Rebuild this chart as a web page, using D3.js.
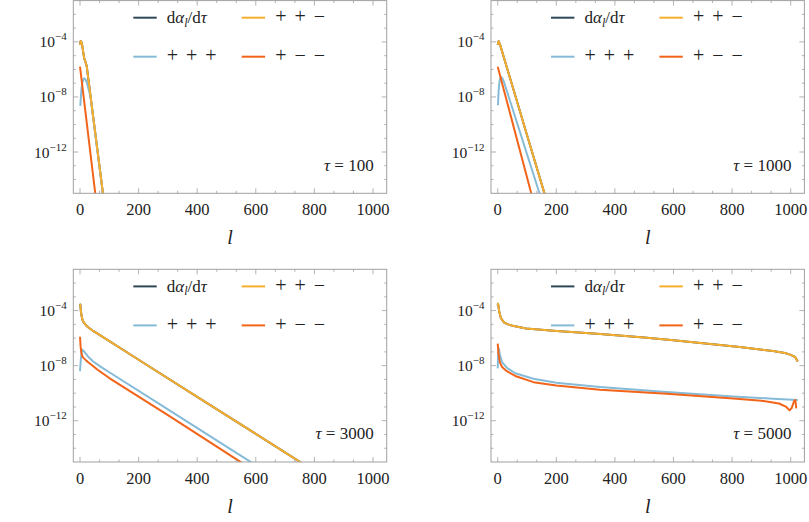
<!DOCTYPE html>
<html><head><meta charset="utf-8">
<script src="https://cdn.jsdelivr.net/npm/d3@7"></script>
<style>
html,body{margin:0;padding:0;background:#fff;}
svg{display:block;}
</style></head>
<body>
<svg id="chart" width="809" height="522"></svg>
<script>
// ---------- data (values as log10 exponents) ----------
const taus = [100, 1000, 3000, 5000];
const seriesNames = ["dalpha", "ppp", "ppm", "pmm"];
const seriesColors = ["#2F4858", "#86BBD8", "#F6AE2D", "#F26419"];

const xTicks = [0, 200, 400, 600, 800, 1000];
const yTickExps = [-4, -8, -12];

// tau = 100
const ppm100 = [[0,-4.21],[2,-3.95],[4,-3.97],[8,-4.3],[12,-4.9],[15,-5.25],[18,-5.4],[23,-5.78],[40,-8.62],[60,-11.96],[80,-15.3]];
const dal100 = [[0,-4.21],[2,-3.95],[4,-3.97],[8,-4.3],[12,-4.9],[15,-5.25],[18,-5.4],[23,-5.78],[40,-8.62],[60,-11.96],[80,-15.3]];
const ppp100 = [[1,-8.65],[3,-8.0],[5,-7.4],[8,-6.95],[12,-6.68],[15,-6.65],[19,-6.75],[24,-7.0],[30,-7.5],[36,-8.0],[40,-8.68],[60,-12.02],[80,-15.36]];
const pmm100 = [[0,-5.8],[20,-9.34],[40,-12.88],[56,-15.71]];

// tau = 1000
const ppm1000 = [[0,-4.2],[3,-3.95],[8,-4.2],[50,-7.19],[100,-10.76],[159,-14.97],[166,-15.47]];
const dal1000 = [[0,-4.2],[3,-3.95],[8,-4.2],[50,-7.19],[100,-10.76],[159,-14.97],[166,-15.47]];
const ppp1000 = [[1,-8.6],[3,-7.6],[6,-6.9],[9,-6.6],[12,-6.55],[16,-6.65],[22,-6.95],[40,-8.15],[80,-10.82],[142,-14.96],[150,-15.5]];
const pmm1000 = [[0,-5.8],[114,-14.96],[120,-15.45]];

// tau = 3000
const ppm3000 = [[0,-3.65],[1,-3.55],[3,-4.05],[6,-4.45],[9,-4.7],[14,-4.9],[20,-5.06],[30,-5.25],[43,-5.45],[60,-5.68],[200,-7.57],[400,-10.27],[600,-12.96],[760,-15.12]];
const dal3000 = [[0,-3.65],[1,-3.55],[3,-4.05],[6,-4.45],[9,-4.7],[14,-4.9],[20,-5.06],[30,-5.25],[43,-5.45],[60,-5.68],[200,-7.57],[400,-10.27],[600,-12.96],[760,-15.12]];
const ppp3000 = [[0,-8.4],[3,-7.5],[6,-7.0],[9,-6.85],[15,-7.0],[28,-7.35],[45,-7.7],[70,-8.07],[100,-8.48],[300,-11.18],[500,-13.88],[600,-15.23]];
const pmm3000 = [[0,-5.9],[2,-6.6],[5,-7.15],[10,-7.4],[20,-7.6],[28,-7.75],[40,-7.95],[60,-8.3],[100,-8.9],[300,-11.6],[545,-14.96],[560,-15.16]];

// tau = 5000
const ppm5000 = [[0,-3.62],[1,-3.5],[2,-3.6],[5,-4.05],[11,-4.55],[22,-4.87],[35,-5.0],[51,-5.1],[97,-5.3],[190,-5.46],[350,-5.7],[500,-5.95],[600,-6.15],[700,-6.38],[826,-6.65],[940,-6.94],[980,-7.08],[998,-7.2],[1015,-7.37],[1024,-7.69]];
const dal5000 = [[0,-3.62],[1,-3.5],[2,-3.6],[5,-4.05],[11,-4.55],[22,-4.87],[35,-5.0],[51,-5.1],[97,-5.3],[190,-5.46],[350,-5.7],[500,-5.95],[600,-6.15],[700,-6.38],[826,-6.65],[940,-6.94],[980,-7.08],[998,-7.2],[1015,-7.37],[1024,-7.69]];
const ppp5000 = [[0,-8.2],[2,-6.9],[4,-6.75],[8,-7.25],[15,-7.75],[31,-8.15],[60,-8.55],[122,-8.95],[200,-9.25],[349,-9.55],[577,-9.91],[804,-10.25],[940,-10.4],[1024,-10.5]];
const pmm5000 = [[0,-6.4],[3,-7.2],[8,-7.8],[15,-8.1],[31,-8.4],[60,-8.75],[122,-9.2],[200,-9.45],[349,-9.75],[577,-10.05],[804,-10.38],[900,-10.55],[960,-10.75],[985,-11.0],[996,-11.25],[1003,-11.1],[1012,-10.55],[1016,-10.5],[1019,-11.1]];

const panelsData = [
  {tau: taus[0], series: [dal100, ppp100, ppm100, pmm100]},
  {tau: taus[1], series: [dal1000, ppp1000, ppm1000, pmm1000]},
  {tau: taus[2], series: [dal3000, ppp3000, ppm3000, pmm3000]},
  {tau: taus[3], series: [dal5000, ppp5000, ppm5000, pmm5000]}
];

// ---------- layout ----------
const FONT = "Liberation Serif";
const svg = d3.select("#chart");
const pw = 313.4, ph = 192.7;
const origins = [[73.3, 0.6], [491, 0.6], [73.3, 269.3], [491, 269.3]];
const frameColor = "#a0a0a0";
const textColor = "#222";

const x = d3.scaleLinear().domain([-22.9, 1046.8]).range([0, pw]);
const y = d3.scaleLog().domain([1e-15, 1e-1]).range([ph, 0]);
const line = d3.line().x(d => x(d[0])).y(d => y(Math.pow(10, d[1])));

const minorX = d3.range(0, 1000.01, 200/3).filter(v => xTicks.every(t => Math.abs(t - v) > 1));
const minorYExp = d3.range(-14, -1).filter(e => !yTickExps.includes(e));

function txt(sel, size) {
  return sel.append("text").attr("font-size", size).style("font-family", FONT).attr("fill", textColor);
}
function tsp(sel, size) {
  const t = sel.append("tspan");
  if (size) t.attr("font-size", size);
  return t;
}

panelsData.forEach((p, i) => {
  const g = svg.append("g").attr("transform", `translate(${origins[i][0]},${origins[i][1]})`);
  const cid = "clip" + i;
  g.append("clipPath").attr("id", cid).append("rect").attr("width", pw).attr("height", ph);

  // curves
  const cg = g.append("g").attr("clip-path", `url(#${cid})`);
  p.series.forEach((s, k) => {
    cg.append("path").attr("d", line(s)).attr("fill", "none")
      .attr("stroke", seriesColors[k]).attr("stroke-width", 2)
      .attr("stroke-linejoin", "round").attr("stroke-linecap", "butt");
  });

  // frame
  g.append("rect").attr("width", pw).attr("height", ph).attr("fill", "none")
    .attr("stroke", frameColor).attr("stroke-width", 1);

  const tg = g.append("g").attr("stroke", frameColor).attr("stroke-width", 0.8);
  xTicks.forEach(t => {
    tg.append("line").attr("x1", x(t)).attr("x2", x(t)).attr("y1", ph).attr("y2", ph - 5);
    tg.append("line").attr("x1", x(t)).attr("x2", x(t)).attr("y1", 0).attr("y2", 5);
  });
  minorX.forEach(t => {
    tg.append("line").attr("x1", x(t)).attr("x2", x(t)).attr("y1", ph).attr("y2", ph - 2.5);
    tg.append("line").attr("x1", x(t)).attr("x2", x(t)).attr("y1", 0).attr("y2", 2.5);
  });
  yTickExps.forEach(e => {
    const yy = y(Math.pow(10, e));
    tg.append("line").attr("x1", 0).attr("x2", 5).attr("y1", yy).attr("y2", yy);
    tg.append("line").attr("x1", pw).attr("x2", pw - 5).attr("y1", yy).attr("y2", yy);
  });
  minorYExp.forEach(e => {
    const yy = y(Math.pow(10, e));
    tg.append("line").attr("x1", 0).attr("x2", 2.5).attr("y1", yy).attr("y2", yy);
    tg.append("line").attr("x1", pw).attr("x2", pw - 2.5).attr("y1", yy).attr("y2", yy);
  });

  // x tick labels
  xTicks.forEach(t => {
    txt(g, 16.5).attr("x", x(t)).attr("y", ph + 22).attr("text-anchor", "middle").text(t);
  });
  // y tick labels
  yTickExps.forEach(e => {
    const yy = y(Math.pow(10, e));
    const tx = txt(g, 15.5).attr("x", -6.5).attr("y", yy + 5.5).attr("text-anchor", "end");
    tsp(tx).text("10");
    tsp(tx, 11).attr("dy", -7).text("\u2212" + Math.abs(e));
  });

  // axis label
  txt(g, 20).attr("x", pw / 2).attr("y", ph + 51).attr("text-anchor", "middle")
    .style("font-style", "italic").text("l");

  // tau label
  const tl = txt(g, 17).attr("x", pw - 13).attr("y", ph - 22.5).attr("text-anchor", "end");
  tsp(tl).style("font-style", "italic").text("\u03C4");
  tsp(tl).text(" = " + p.tau);

  // legend
  const legend = [
    {k: 0, col: 0, row: 0}, {k: 2, col: 1, row: 0},
    {k: 1, col: 0, row: 1}, {k: 3, col: 1, row: 1}
  ];
  const colX = [60, 168.4], rowY = [17.1, 56.1];
  const labels = ["", "+ + +", "+ + \u2212", "+ \u2212 \u2212"];
  legend.forEach(L => {
    const lx = colX[L.col], ly = rowY[L.row];
    g.append("line").attr("x1", lx).attr("x2", lx + 23.4).attr("y1", ly).attr("y2", ly)
      .attr("stroke", seriesColors[L.k]).attr("stroke-width", 2);
    if (L.k === 0) {
      const t = txt(g, 17).attr("x", lx + 33.5).attr("y", ly + 5.5);
      tsp(t).text("d");
      tsp(t).style("font-style", "italic").text("\u03B1");
      tsp(t, 12).style("font-style", "italic").attr("dy", 3.5).text("l");
      tsp(t).attr("dy", -3.5).text("/d");
      tsp(t).style("font-style", "italic").text("\u03C4");
    } else {
      txt(g, 20).attr("x", lx + 33.5).attr("y", ly + 5.5)
        .style("letter-spacing", "1.5px").text(labels[L.k]);
    }
  });
});
</script>
</body></html>
